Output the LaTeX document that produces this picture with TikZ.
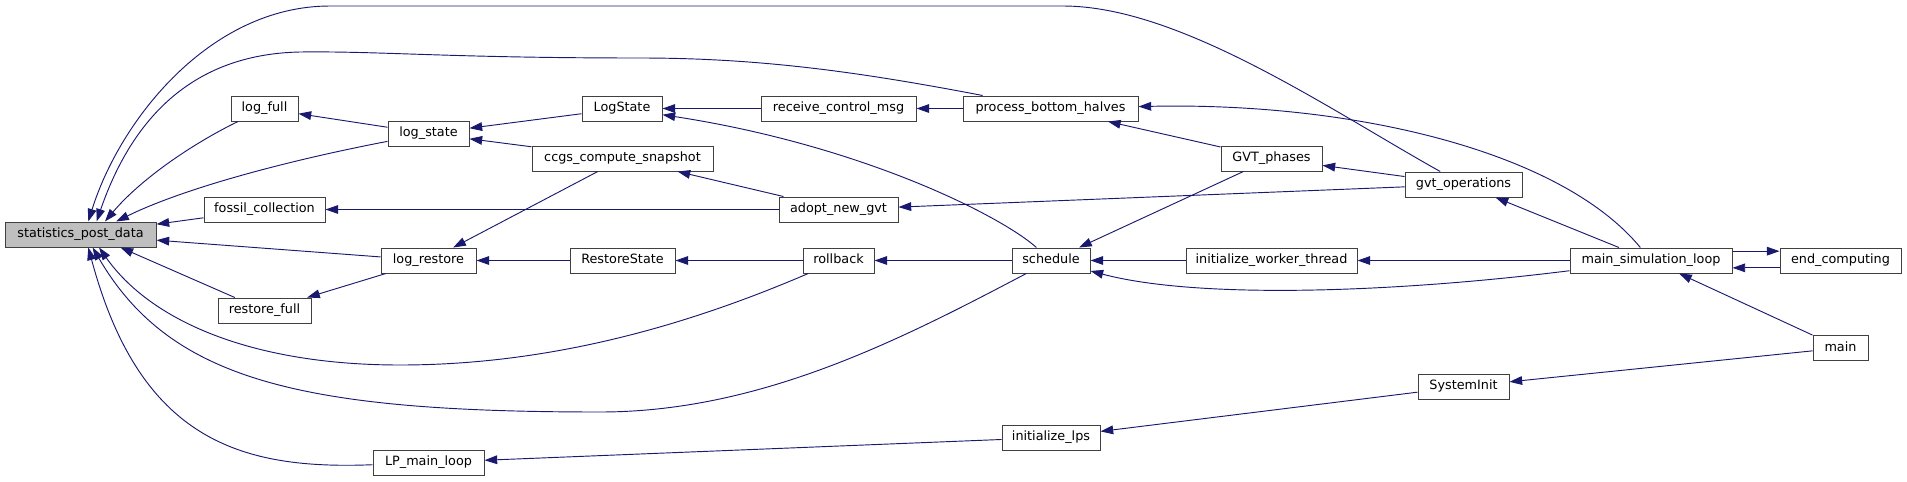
\documentclass[tikz,border=0pt]{standalone}
\usepackage{fontspec}
\setmainfont{DejaVu Sans}
\usetikzlibrary{arrows.meta}
\definecolor{edgeblue}{HTML}{191970}
\definecolor{nodegray}{HTML}{BFBFBF}

\begin{document}
\begin{tikzpicture}[x=0.75pt,y=-0.75pt,
  fn/.style={draw=black!75,line width=0.75pt,fill=white,minimum height=18.75pt,inner sep=0pt,
    text height=7pt,text depth=2.5pt,font=\fontsize{9.6}{11}\selectfont},
  call/.style={edgeblue,line width=0.7pt,-{Triangle[length=9.5pt,width=6.5pt]}}]
\useasboundingbox (0,0) rectangle (1907,482);
\node[fn,fill=nodegray,minimum width=113.25pt] (spd) at (80.5,234.5) {statistics\_post\_data};
\foreach \nm/\x/\y/\w/\lab in {
  logfull/264.5/108.5/67/log\_full, fossil/264.5/209.5/121/fossil\_collection,
  restorefull/264.5/310.5/93/restore\_full, logstate/428.5/133.5/81/log\_state,
  logrestore/428.5/260.5/95/log\_restore, lploop/428.5/462.5/111/LP\_main\_loop,
  LogState/622/108.5/80/LogState, ccgs/622.5/158.5/181/ccgs\_compute\_snapshot,
  RestoreState/622.5/260.5/105/RestoreState, recvctrl/838.5/108.5/155/receive\_control\_msg,
  adoptgvt/838.5/209.5/119/adopt\_new\_gvt, rollback/838.5/260.5/71/rollback,
  pbh/1050.5/108.5/175/process\_bottom\_halves, schedule/1051/260.5/78/schedule,
  initlps/1051/437.5/98/initialize\_lps, gvtphases/1271.5/158.5/101/GVT\_phases,
  initworker/1271.5/260.5/171/initialize\_worker\_thread, gvtops/1463.5/184.5/117/gvt\_operations,
  sysinit/1463.5/386.5/91/SystemInit, simloop/1651/260.5/162/main\_simulation\_loop,
  endcomp/1840.5/260.5/121/end\_computing, main/1840.5/348/55/main}
  \node[fn,minimum width=\w*0.75pt] (\nm) at (\x,\y) {\lab};

\foreach \a/\b in {fossil/spd, logrestore/spd, restorefull/spd.-18, logstate/logfull,
  LogState/logstate, ccgs/logstate, ccgs/logrestore, RestoreState/logrestore,
  logrestore/restorefull, adoptgvt/fossil, recvctrl/LogState, adoptgvt/ccgs,
  rollback/RestoreState, pbh/recvctrl, gvtops/adoptgvt, schedule/rollback,
  gvtphases/pbh, gvtops/gvtphases, gvtphases/schedule, initworker/schedule,
  simloop/initworker, simloop/gvtops, main/simloop, initlps/lploop,
  sysinit/initlps, main/sysinit}
  \draw[call] (\a) -- (\b);

\draw[call] (gvtops) .. controls (1330,110) and (1180,6) .. (1063,6) -- (330,6)
  .. controls (210,6) and (120,120) .. (spd.59);
\draw[call] (pbh) .. controls (860,72) and (760,58) .. (640,58)
  .. controls (450,58) and (380,51) .. (300,52) .. controls (200,54) and (135,110) .. (spd.39);
\draw[call] (logfull) .. controls (190,145) and (140,180) .. (spd.28);
\draw[call] (logstate) .. controls (280,162) and (180,190) .. (spd.20);
\draw[call] (rollback) .. controls (700,320) and (560,365) .. (400,365)
  .. controls (250,365) and (150,320) .. (spd.-35);
\draw[call] (schedule) .. controls (900,340) and (760,412) .. (600,412)
  .. controls (300,412) and (170,380) .. (spd.-47);
\draw[call] (lploop) .. controls (240,470) and (140,440) .. (spd.-59);
\draw[call] (schedule) .. controls (1000,215) and (860,145) .. (LogState);
\draw[call] (simloop) .. controls (1560,150) and (1350,102) .. (pbh);
\draw[call] (simloop) .. controls (1400,292) and (1200,300) .. (schedule);
\draw[call] ([yshift=7pt]simloop.east) -- ([yshift=7pt]endcomp.west);
\draw[call] ([yshift=-5.5pt]endcomp.west) -- ([yshift=-5.5pt]simloop.east);
\end{tikzpicture}
\end{document}
